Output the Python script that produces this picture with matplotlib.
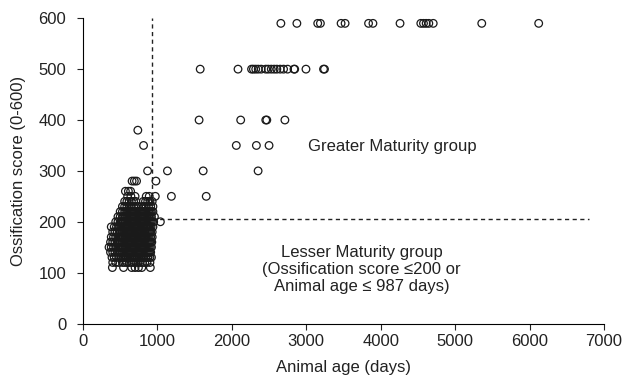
#!/usr/bin/env python3
# Ossification score vs animal age scatter, with maturity group cut-offs

import matplotlib
matplotlib.use('Agg')
import matplotlib.pyplot as plt

plt.rcParams['font.family'] = ['Liberation Sans', 'DejaVu Sans']

### Data (age in days, score 0-600)
# dense cluster of young animals, one list of ages per score level
cluster_scores = [110, 120, 130, 140, 150, 160, 170, 180, 190, 200, 210, 220, 230, 240, 250, 260, 280]
cluster_ages = [
	[395, 545, 655, 700, 745, 790, 905],
	[400, 440, 480, 530, 560, 590, 620, 650, 680, 710, 740, 770, 800, 830, 860, 900],
	[390, 420, 450, 480, 510, 540, 570, 600, 630, 660, 690, 720, 750, 780, 810, 840, 870, 900, 920],
	[370, 400, 430, 460, 490, 520, 550, 580, 610, 640, 670, 700, 730, 760, 790, 820, 850, 880, 910],
	[350, 380, 410, 440, 470, 500, 530, 560, 590, 620, 650, 680, 710, 740, 770, 800, 830, 860, 890, 920],
	[370, 400, 430, 460, 490, 520, 550, 580, 610, 640, 670, 700, 730, 760, 790, 820, 850, 880, 910, 925],
	[380, 410, 440, 470, 500, 530, 560, 590, 620, 650, 680, 710, 740, 770, 800, 830, 860, 890, 930],
	[400, 430, 460, 490, 520, 550, 580, 610, 640, 670, 700, 730, 760, 790, 820, 850, 880, 910, 930],
	[380, 420, 450, 480, 510, 540, 570, 600, 630, 660, 690, 720, 750, 780, 810, 840, 870, 900, 940],
	[440, 470, 500, 530, 560, 590, 620, 650, 680, 710, 740, 770, 800, 830, 860, 890, 920, 950, 1040],
	[470, 500, 530, 560, 590, 620, 650, 680, 710, 740, 770, 800, 830, 860, 890, 920, 960],
	[500, 530, 560, 590, 620, 650, 680, 710, 740, 770, 800, 830, 860, 890, 920, 940],
	[530, 560, 590, 620, 650, 680, 710, 740, 790, 820, 850, 880, 910, 940],
	[560, 590, 620, 650, 680, 710, 810, 840, 870, 900, 930],
	[600, 644, 700, 850, 890, 972, 1188, 1656],
	[570, 610, 640],
	[660, 690, 720, 980],
]
# extra animals packed into the solid core of the cluster
core_scores = [130, 140, 150, 160, 170, 180, 190, 200, 210, 220]
core_ages = [
	[515, 545, 575, 605, 635, 665, 695, 725, 755, 785, 815, 845, 875],
	[505, 535, 565, 595, 625, 655, 685, 715, 745, 775, 805, 835, 865, 895],
	[485, 515, 545, 575, 605, 635, 665, 695, 725, 755, 785, 815, 845, 875, 905],
	[475, 505, 535, 565, 595, 625, 655, 685, 715, 745, 775, 805, 835, 865, 895],
	[485, 515, 545, 575, 605, 635, 665, 695, 725, 755, 785, 815, 845, 875, 910],
	[505, 535, 565, 595, 625, 655, 685, 715, 745, 775, 805, 835, 865, 895],
	[495, 525, 555, 585, 615, 645, 675, 705, 735, 765, 795, 825, 855, 885, 915],
	[515, 545, 575, 605, 635, 665, 695, 725, 755, 785, 815, 845, 875, 905],
	[545, 575, 605, 635, 665, 695, 725, 755, 785, 815, 845, 875, 905],
	[575, 605, 635, 665, 695, 725, 755, 785, 815, 845, 875, 905],
]
# scattered older animals
older_scores = [300, 350, 380, 400, 500, 590]
older_ages = [
	[868, 1135, 1615, 2353],
	[814, 2060, 2330, 2500],
	[737],
	[1560, 2119, 2456, 2470, 2713],
	[1575, 2083, 2265, 2290, 2321, 2355, 2395, 2456, 2490, 2530, 2569, 2605, 2650, 2695,
		2749, 2835, 2845, 2996, 3232, 3245],
	[2659, 2874, 3154, 3190, 3468, 3522, 3837, 3896, 4260, 4539, 4575, 4611, 4647, 4706, 5358, 6123],
]
# cut-off lines
age_cut = 930
score_cut = 205
line_end = 6800

xs, ys = [], []
for s, ages in zip(cluster_scores + core_scores + older_scores, cluster_ages + core_ages + older_ages):
	xs += ages
	ys += [s] * len(ages)

fig = plt.figure(figsize=(6.22, 3.83), dpi=100)
ax = fig.add_axes([0.1334, 0.1553, 0.8376, 0.797])
ax.scatter(xs, ys, s=30, facecolors='none', edgecolors='#1a1a1a', linewidths=0.9, zorder=3)

ax.plot([age_cut, age_cut], [score_cut, 600], color='#222222', lw=1, ls=(0, (3, 2.5)))
ax.plot([age_cut, line_end], [score_cut, score_cut], color='#222222', lw=1, ls=(0, (3, 2.5)))

ax.text(3018, 348, 'Greater Maturity group', fontsize=12, ha='left', va='center', color='#222222')
ax.text(3745, 106, 'Lesser Maturity group\n(Ossification score \u2264200 or\nAnimal age \u2264 987 days)',
	fontsize=12, ha='center', va='center', linespacing=1.2, color='#222222')

ax.set_xlim(0, 7000)
ax.set_ylim(0, 600)
ax.set_xticks(range(0, 7001, 1000))
ax.set_yticks(range(0, 601, 100))
ax.spines['top'].set_visible(False)
ax.spines['right'].set_visible(False)
ax.tick_params(direction='out', length=4, labelsize=12, colors='#222222')
ax.tick_params(axis='y', pad=8)
ax.set_xlabel('Animal age (days)', fontsize=12, color='#222222', labelpad=8)
ax.set_ylabel('Ossification score (0-600)', fontsize=12, color='#222222', labelpad=9)

plt.savefig('out.png', dpi=100)
plt.close()
